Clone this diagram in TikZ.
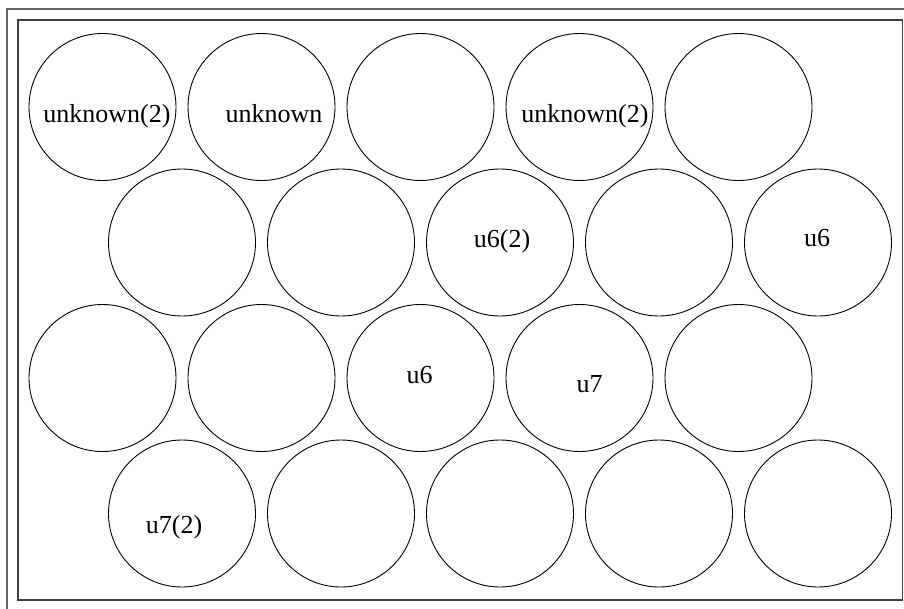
\documentclass[tikz,border=0pt]{standalone}
\usepackage{fontspec}
\setmainfont{Liberation Serif}
\begin{document}
\begin{tikzpicture}[x=1pt,y=-1pt,
  cell/.style={circle,draw=black,line width=0.9pt,minimum size=147pt,inner sep=0pt},
  lbl/.style={anchor=base,inner sep=0pt,font=\fontsize{26}{30}\selectfont},
  outerframe/.style={draw=black!60,line width=1.3pt},
  innerframe/.style={draw=black!75,line width=1.1pt}]
\useasboundingbox (0,0) rectangle (904,608);
\draw[outerframe] (7,9) rectangle (915,620);
\draw[innerframe] (18,20) rectangle (902.5,600);
% row 1
\node[cell] (c11) at (102.5,107) {};
\node[cell] (c12) at (261.5,107) {};
\node[cell] (c13) at (420.5,107) {};
\node[cell] (c14) at (579.5,107) {};
\node[cell] (c15) at (738.5,107) {};
% row 2
\node[cell] (c21) at (182,242.5) {};
\node[cell] (c22) at (341,242.5) {};
\node[cell] (c23) at (500,242.5) {};
\node[cell] (c24) at (659,242.5) {};
\node[cell] (c25) at (818,242.5) {};
% row 3
\node[cell] (c31) at (102.5,378) {};
\node[cell] (c32) at (261.5,378) {};
\node[cell] (c33) at (420.5,378) {};
\node[cell] (c34) at (579.5,378) {};
\node[cell] (c35) at (738.5,378) {};
% row 4
\node[cell] (c41) at (182,513.5) {};
\node[cell] (c42) at (341,513.5) {};
\node[cell] (c43) at (500,513.5) {};
\node[cell] (c44) at (659,513.5) {};
\node[cell] (c45) at (818,513.5) {};
% labels
\node[lbl] (t11) at (107,122) {unknown(2)};
\node[lbl] (t12) at (274,122) {unknown};
\node[lbl] (t14) at (585,122) {unknown(2)};
\node[lbl] (t23) at (502,247) {u6(2)};
\node[lbl] (t25) at (817,246) {u6};
\node[lbl] (t33) at (419.5,383) {u6};
\node[lbl] (t34) at (589.5,392) {u7};
\node[lbl] (t41) at (174,533) {u7(2)};
\end{tikzpicture}
\end{document}
